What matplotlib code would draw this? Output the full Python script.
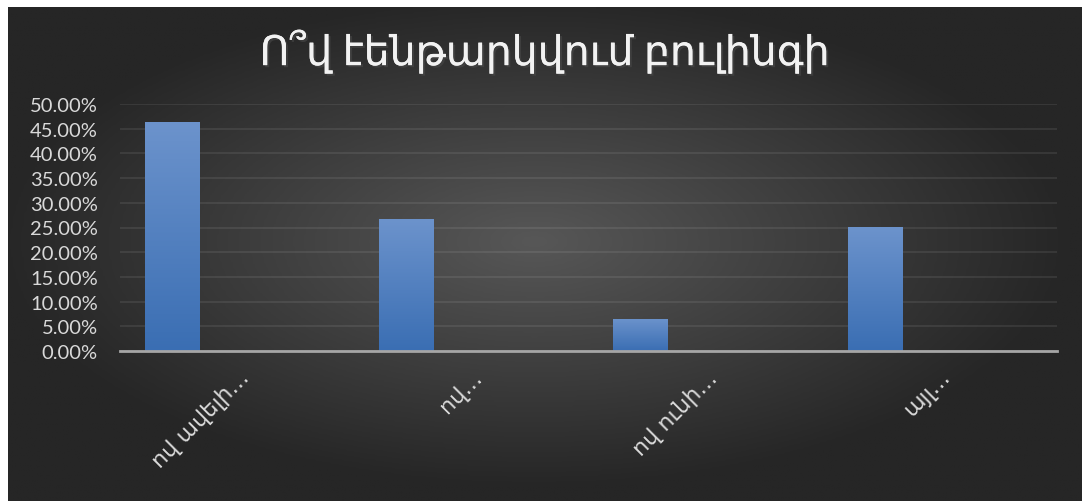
import numpy as np
import matplotlib
matplotlib.use("Agg")
from matplotlib import pyplot as plt
from matplotlib.colors import LinearSegmentedColormap
from matplotlib.transforms import ScaledTranslation
import matplotlib.patheffects as pe

title = "Ո՞վ էենթարկվում բուլինգի"
categories = ["ով ավելի…", "ով…", "ով ունի…", "այլ…"]
values = [0.463, 0.267, 0.065, 0.251]
yticks = [0.0, 0.05, 0.10, 0.15, 0.20, 0.25, 0.30, 0.35, 0.40, 0.45, 0.50]

plt.rcParams['font.family'] = ['Lato', 'DejaVu Sans']

W, H = 1082, 502
fig = plt.figure(figsize=(W / 100, H / 100), dpi=100)
fig.patch.set_facecolor("white")

# dark radial background (white strip on top and left like the source)
bg = fig.add_axes([8 / W, 0, (W - 8) / W, (H - 8) / H])
gx, gy = np.meshgrid(np.linspace(-1, 1, 400), np.linspace(-1, 1, 200))
r = np.clip(np.sqrt((gx + 0.02) ** 2 + (gy + 0.05) ** 2), 0, 1)
bg_cmap = LinearSegmentedColormap.from_list("bg", ["#575757", "#262626"])
bg.imshow(r, cmap=bg_cmap, aspect="auto", extent=[0, 1, 0, 1], vmin=0, vmax=1)
bg.set_axis_off()

ax = fig.add_axes([120 / W, (H - 352) / H, (1057 - 120) / W, (352 - 105) / H])
ax.patch.set_alpha(0)

x = np.arange(len(categories))
bars = ax.bar(x - 0.278, values, width=0.231, color="#4a7cc0", zorder=3)

bar_cmap = LinearSegmentedColormap.from_list("bar", ["#3a6eb3", "#6c93cc"])
grad = np.linspace(0, 1, 256).reshape(-1, 1)
for rect in bars:
    x0, y0 = rect.get_xy()
    im = ax.imshow(grad, cmap=bar_cmap, origin="lower", aspect="auto",
                   extent=[x0, x0 + rect.get_width(), y0, y0 + rect.get_height()], zorder=4)
    im.set_clip_path(rect)

ax.set_xlim(-0.5, len(categories) - 0.5)
ax.set_ylim(0, 0.5)
ax.set_yticks(yticks)
ax.set_yticklabels([f"{v * 100:.2f}%" for v in yticks], fontsize=14.5, color="#d9d9d9")
ax.yaxis.grid(True, color="white", alpha=0.08, linewidth=1.5, zorder=0)
ax.set_axisbelow(True)
for s in ["top", "right", "left"]:
    ax.spines[s].set_visible(False)
ax.spines["bottom"].set_color("#a6a6a6")
ax.spines["bottom"].set_linewidth(2)
ax.spines["bottom"].set_zorder(5)
ax.tick_params(axis="y", length=0, pad=16)
ax.tick_params(axis="x", length=0, pad=16)

ax.set_xticks(x)
ax.set_xticklabels(categories, rotation=45, ha="right", va="center",
                   rotation_mode="anchor", fontsize=16, color="#d9d9d9",
                   family=["DejaVu Sans"])
for lbl in ax.get_xticklabels():
    lbl.set_transform(lbl.get_transform() + ScaledTranslation(0.08, 0, fig.dpi_scale_trans))

fig.text(545 / W, 1 - 53 / H, title, ha="center", va="center", fontsize=29.5,
         color="#f2f2f2",
         path_effects=[pe.withSimplePatchShadow(offset=(1.5, -1.5), alpha=0.6), pe.Normal()])

fig.savefig("out.png", dpi=100)
